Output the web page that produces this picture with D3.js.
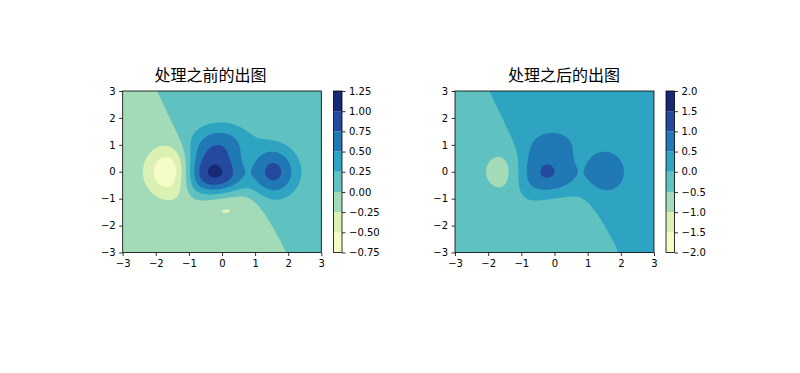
<!DOCTYPE html>
<html>
<head>
<meta charset="utf-8">
<script src="https://cdn.jsdelivr.net/npm/d3@7"></script>
<style>
  body { margin: 0; background: #fff; }
</style>
</head>
<body>
<div class="chart"></div>
<script>
// titles and ticks
const titles = ["处理之前的出图", "处理之后的出图"];
const axisTicks = [-3, -2, -1, 0, 1, 2, 3];
const axisTickLabels = ["−3", "−2", "−1", "0", "1", "2", "3"];

// contour levels of each panel and their colorbar labels
const levelsBefore = [-0.75, -0.5, -0.25, 0, 0.25, 0.5, 0.75, 1, 1.25];
const labelsBefore = ["−0.75", "−0.50", "−0.25", "0.00", "0.25", "0.50", "0.75", "1.00", "1.25"];
const levelsAfter = [-2, -1.5, -1, -0.5, 0, 0.5, 1, 1.5, 2];
const labelsAfter = ["−2.0", "−1.5", "−1.0", "−0.5", "0.0", "0.5", "1.0", "1.5", "2.0"];

// YlGnBu stops
const ylgnbu = ["#ffffd9", "#edf8b1", "#c7e9b4", "#7fcdbb", "#41b6c4", "#1d91c0", "#225ea8", "#253494", "#081d58"];

const extent = [-3, 3];

// the field both panels were drawn from
function field(x, y) {
    return (1 - x / 2 + Math.pow(x, 5) + Math.pow(y, 3)) * Math.exp(-x * x - y * y);
}

var width = 800, height = 373;
var top_ = 91, bottom = 252.5;

const panels = [
    {title: titles[0], levels: levelsBefore, labels: labelsBefore, left: 122.7, right: 321.3, cbLeft: 333.5, cbRight: 342, titleX: 210.5},
    {title: titles[1], levels: levelsAfter, labels: labelsAfter, left: 455, right: 654, cbLeft: 666, cbRight: 674.5, titleX: 564}
];

// band colours: colormap sampled at the middle of each band
const bandColors = d3.range(8).map(k => d3.interpolateRgb(ylgnbu[k], ylgnbu[k + 1])(0.5));

// sample grid
const nx = 300, ny = 300;
const gridX = d3.scaleLinear().domain([0, nx]).range(extent);
const gridY = d3.scaleLinear().domain([0, ny]).range([extent[1], extent[0]]);
const values = new Float64Array(nx * ny);
for (let j = 0; j < ny; j++) {
    for (let i = 0; i < nx; i++) {
        values[j * nx + i] = field(gridX(i + 0.5), gridY(j + 0.5));
    }
}

const svg = d3.select(".chart").append("svg")
    .attr("width", width)
    .attr("height", height);

panels.forEach(function(p) {
    const xScale = d3.scaleLinear().domain(extent).range([p.left, p.right]);
    const yScale = d3.scaleLinear().domain(extent).range([bottom, top_]);

    const proj = d3.geoTransform({
        point: function(px, py) { this.stream.point(xScale(gridX(px)), yScale(gridY(py))); }
    });
    const path = d3.geoPath(proj);

    const contours = d3.contours()
        .size([nx, ny])
        .thresholds(p.levels)(values);

    const g = svg.append("g");

    g.selectAll("path.band")
        .data(contours.slice(0, 8))
        .join("path")
        .attr("class", "band")
        .attr("fill", (d, i) => bandColors[i])
        .attr("d", path);

    // x axis
    g.append("g")
        .attr("transform", `translate(0, ${bottom})`)
        .call(d3.axisBottom(xScale).tickValues(axisTicks)
            .tickFormat((d, i) => axisTickLabels[i])
            .tickSize(3.5).tickPadding(3.5).tickSizeOuter(0))
        .call(s => s.select(".domain").remove())
        .call(s => s.selectAll("line").attr("stroke", "#000").attr("stroke-width", 0.8))
        .attr("font-family", "DejaVu Sans")
        .attr("font-size", 10);

    // y axis
    g.append("g")
        .attr("transform", `translate(${p.left}, 0)`)
        .call(d3.axisLeft(yScale).tickValues(axisTicks)
            .tickFormat((d, i) => axisTickLabels[i])
            .tickSize(3.5).tickPadding(3.5).tickSizeOuter(0))
        .call(s => s.select(".domain").remove())
        .call(s => s.selectAll("line").attr("stroke", "#000").attr("stroke-width", 0.8))
        .attr("font-family", "DejaVu Sans")
        .attr("font-size", 10);

    // spines
    g.append("rect")
        .attr("x", p.left).attr("y", top_)
        .attr("width", p.right - p.left).attr("height", bottom - top_)
        .attr("fill", "none").attr("stroke", "#000").attr("stroke-width", 0.8);

    // title
    g.append("text")
        .attr("x", p.titleX)
        .attr("y", 80.5)
        .attr("text-anchor", "middle")
        .attr("font-family", "Noto Sans CJK SC")
        .attr("font-size", 16)
        .attr("fill", "#000")
        .text(p.title);

    // colorbar
    const cb = d3.scaleLinear().domain([p.levels[0], p.levels[p.levels.length - 1]]).range([bottom, top_]);
    g.selectAll("rect.cbar")
        .data(bandColors)
        .join("rect")
        .attr("class", "cbar")
        .attr("x", p.cbLeft)
        .attr("width", p.cbRight - p.cbLeft)
        .attr("y", (d, i) => cb(p.levels[i + 1]))
        .attr("height", (d, i) => cb(p.levels[i]) - cb(p.levels[i + 1]))
        .attr("fill", d => d);

    g.append("rect")
        .attr("x", p.cbLeft).attr("y", top_)
        .attr("width", p.cbRight - p.cbLeft).attr("height", bottom - top_)
        .attr("fill", "none").attr("stroke", "#000").attr("stroke-width", 0.8);

    g.append("g")
        .attr("transform", `translate(${p.cbRight}, 0)`)
        .call(d3.axisRight(cb).tickValues(p.levels)
            .tickFormat((d, i) => p.labels[i])
            .tickSize(3.5).tickPadding(3.5).tickSizeOuter(0))
        .call(s => s.select(".domain").remove())
        .call(s => s.selectAll("line").attr("stroke", "#000").attr("stroke-width", 0.8))
        .attr("font-family", "DejaVu Sans")
        .attr("font-size", 10);
});
</script>
</body>
</html>
